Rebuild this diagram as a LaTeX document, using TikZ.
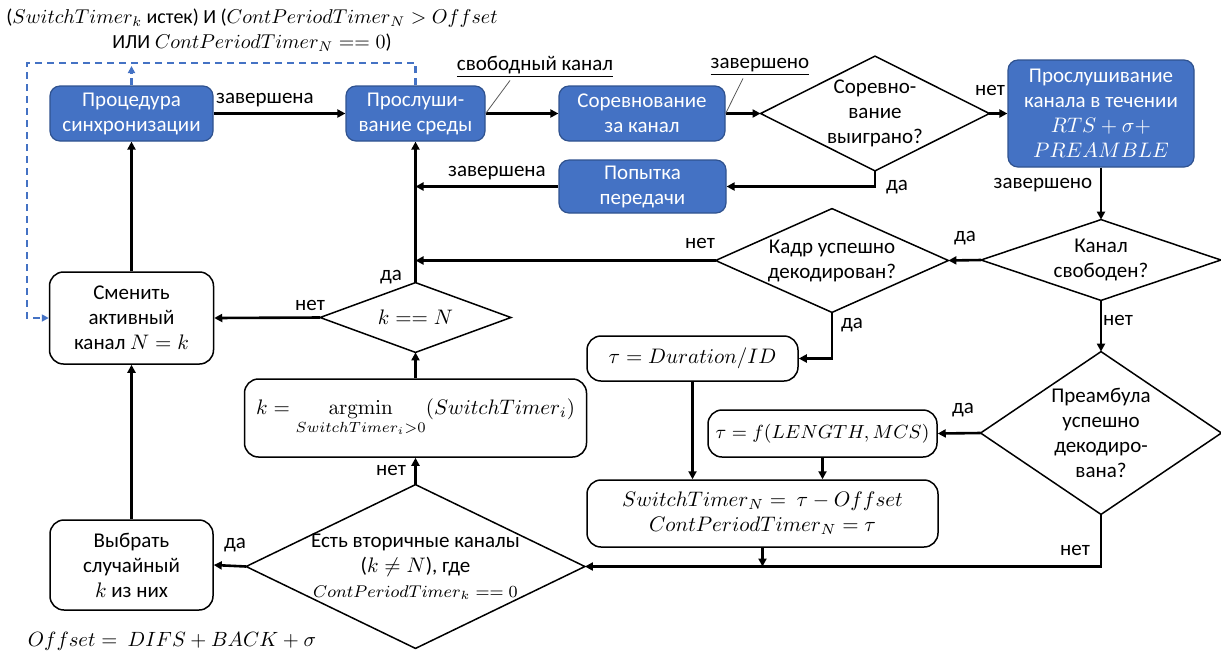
\RequirePackage{fix-cm}
\documentclass[tikz,border=0pt]{standalone}
\usepackage{amsmath}
\usepackage[no-math]{fontspec}
\setmainfont{Carlito}
\usetikzlibrary{arrows.meta}
\definecolor{oblue}{RGB}{68,114,196}
\definecolor{oborder}{RGB}{47,82,143}
\newcommand{\fsz}{\fontsize{10.5}{12.5}\selectfont}
\begin{document}
\begin{tikzpicture}[x=0.5pt,y=-0.5pt,
  bluebox/.style={draw=oborder, fill=oblue, text=white, rounded corners=5pt, line width=0.6pt, align=center, inner sep=1pt, font=\fsz},
  whitebox/.style={draw=black, fill=white, rounded corners=7pt, line width=0.75pt, align=center, inner sep=1pt, font=\fsz},
  diatext/.style={align=center, inner sep=0pt, font=\fsz},
  diaborder/.style={draw=black, line width=0.75pt},
  arr/.style={-{Triangle[length=4pt,width=4pt]}, line width=1.3pt},
  lbl/.style={font=\fsz, inner sep=1pt},
  leader/.style={draw=black!65, line width=0.4pt},
  dashline/.style={draw=oblue, dash pattern=on 3.5pt off 2.5pt, line width=1.2pt},
  dasharr/.style={dashline, -{Triangle[length=3.5pt,width=3.5pt]}}
]
\useasboundingbox (0,0) rectangle (1221,655);

% condition text
\node[font=\fontsize{10}{12.5}\selectfont, inner sep=0pt, align=center] (cond) at (252,30.5) {($SwitchTimer_k$ истек) И ($ContPeriodTimer_N > Offset$\\ИЛИ $ContPeriodTimer_N == 0$)};

% top row
\node[bluebox, minimum width=81.5pt, minimum height=27.5pt] (sync) at (131.5,113.5) {Процедура\\синхронизации};
\node[bluebox, minimum width=69.5pt, minimum height=27.5pt] (listen) at (415.5,113.5) {Прослуши-\\вание среды};
\node[bluebox, minimum width=83pt, minimum height=27.5pt] (contend) at (642,113.5) {Соревнование\\за канал};
\node[diatext, minimum width=114pt, minimum height=57pt] (won) at (875,113.5) {Соревно-\\вание\\выиграно?};
\draw[diaborder] (won.west)--(won.north)--(won.east)--(won.south)--cycle;
\node[bluebox, minimum width=93pt, minimum height=53.5pt] (rts) at (1101,113.5) {Прослушивание\\канала в течении\\$RTS+\sigma+$\\$PREAMBLE$};
\node[bluebox, minimum width=83.5pt, minimum height=26.5pt] (tx) at (642.5,186.5) {Попытка\\передачи};

% right / middle
\node[diatext, minimum width=119.5pt, minimum height=40pt] (chk) at (1101,260) {Канал\\свободен?};
\draw[diaborder] (chk.west)--(chk.north)--(chk.east)--(chk.south)--cycle;
\node[diatext, minimum width=116pt, minimum height=51.5pt] (frame) at (832,260.5) {Кадр успешно\\декодирован?};
\draw[diaborder] (frame.west)--(frame.north)--(frame.east)--(frame.south)--cycle;
\node[diatext, minimum width=120pt, minimum height=81pt] (pre) at (1101,433) {Преамбула\\успешно\\декодиро-\\вана?};
\draw[diaborder] (pre.west)--(pre.north)--(pre.east)--(pre.south)--cycle;
\node[whitebox, minimum width=105.5pt, minimum height=22.5pt] (dur) at (692.5,358.5) {$\tau = Duration/ID$};
\node[whitebox, minimum width=114.5pt, minimum height=23.5pt, font=\fontsize{9.5}{11}\selectfont] (flen) at (822.5,433.5) {$\tau = f(LENGTH, MCS)$};
\node[whitebox, minimum width=175.5pt, minimum height=33.5pt] (set) at (762.5,513.5) {$SwitchTimer_N =\ \tau - Offset$\\$ContPeriodTimer_N = \tau$};

% left / bottom
\node[diatext, minimum width=169pt, minimum height=81.5pt] (sec) at (415.5,566.5) {Есть вторичные каналы\\($k \neq N$), где\\{\fontsize{8.5}{11}\selectfont $ContPeriodTimer_k == 0$}};
\draw[diaborder] (sec.west)--(sec.north)--(sec.east)--(sec.south)--cycle;
\node[whitebox, minimum width=171pt, minimum height=39pt] (argmin) at (415.5,418) {$k = \displaystyle\operatorname*{argmin}_{SwitchTimer_i>0} (SwitchTimer_i)$};
\node[diatext, minimum width=95pt, minimum height=34.5pt] (keqn) at (415.5,317.5) {$k == N$};
\draw[diaborder] (keqn.west)--(keqn.north)--(keqn.east)--(keqn.south)--cycle;
\node[whitebox, minimum width=82pt, minimum height=46pt] (change) at (131.5,318) {Сменить\\активный\\канал $N = k$};
\node[whitebox, minimum width=81.5pt, minimum height=45pt] (pick) at (131.5,565) {Выбрать\\случайный\\$k$ из них};

\node[font=\fontsize{10.3}{13}\selectfont, inner sep=0pt] (offs) at (172,641) {$Offset =\ DIFS + BACK + \sigma$};

% connectors
\draw[arr] (sync) -- (listen);
\draw[arr] (listen) -- (contend);
\draw[arr] (contend) -- (won.west);
\draw[arr] (won.east) -- (rts.west);
\draw[arr] (won.south) |- (tx.east);
\draw[arr] (tx.west) -- (tx.west -| listen.south);
\draw[arr] (keqn.north) -- (listen.south);
\draw[arr] (frame.west) -- (frame.west -| keqn.north);
\draw[arr] (rts.south) -- (chk.north);
\draw[arr] (chk.west) -- (frame.east);
\draw[arr] (chk.south) -- (pre.north);
\draw[arr] (frame.south) |- (dur.east);
\draw[arr] (pre.west) -- (flen.east);
\draw[arr] (dur.south) -- (dur.south |- set.north);
\draw[arr] (flen.south) -- (flen.south |- set.north);
\draw[arr] (set.south) -- (set.south |- sec.east);
\draw[arr] (pre.south) |- (sec.east);
\draw[arr] (sec.north) -- (argmin.south);
\draw[arr] (argmin.north) -- (keqn.south);
\draw[arr] (keqn.west) -- (change.east);
\draw[arr] (sec.west) -- (pick.east);
\draw[arr] (pick.north) -- (change.south);
\draw[arr] (change.north) -- (sync.south);

% dashed feedback
\coordinate (dl) at (27,63);
\coordinate (dr) at (listen.north |- dl);
\draw[dasharr] (listen.north) -- (dr) -- (dl) |- (change.west);
\draw[dasharr] (sync.north) -- ([yshift=-1.5pt]sync.north |- dl);

% labels
\node[lbl] (l1) at (265,100) {завершена};
\node[lbl] (lfree) at (535,67) {\underline{свободный канал}};
\node[lbl] (ldone) at (760,67) {\underline{завершено}};
\draw[leader] ([xshift=-12.5pt]lfree.south) -- (listen.east);
\draw[leader] ([xshift=-8.5pt]ldone.south) -- (contend.east);
\node[lbl] (l2) at (990,90) {нет};
\node[lbl] (l3) at (897,187) {да};
\node[lbl] (l4) at (497,173) {завершена};
\node[lbl] (l5) at (1043,185) {завершено};
\node[lbl] (l6) at (965,238) {да};
\node[lbl] (l7) at (700,243) {нет};
\node[lbl] (l8) at (852,325) {да};
\node[lbl] (l9) at (1118,320) {нет};
\node[lbl] (l10) at (963,410) {да};
\node[lbl] (l11) at (1075,550) {нет};
\node[lbl] (l12) at (391,277) {да};
\node[lbl] (l13) at (310,305) {нет};
\node[lbl] (l14) at (391,470) {нет};
\node[lbl] (l15) at (235,545) {да};
\end{tikzpicture}
\end{document}
